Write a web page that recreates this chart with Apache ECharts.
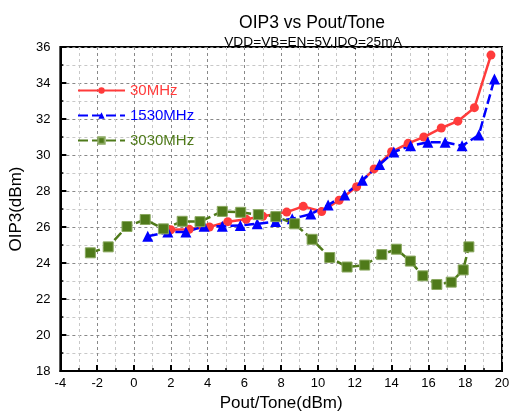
<!DOCTYPE html>
<html>
<head>
<meta charset="utf-8">
<script src="https://cdn.jsdelivr.net/npm/echarts@6/dist/echarts.min.js"></script>
<style>
  html, body { margin: 0; padding: 0; background: #fff; }
  #chart { width: 518px; height: 417px; }
</style>
</head>
<body>
<div id="chart"></div>
<script>
// values
const x30 = [2.0, 3.0, 4.1, 5.1, 6.1, 7.0, 8.3, 9.2, 10.2, 11.15, 12.1, 13.05, 14.0, 14.9, 15.75, 16.7, 17.6, 18.5, 19.4];
const y30 = [25.85, 25.88, 26.0, 26.3, 26.43, 26.6, 26.83, 27.15, 26.86, 27.49, 28.24, 29.23, 30.18, 30.65, 31.0, 31.5, 31.88, 32.63, 35.55];

const x1530 = [0.75, 1.84, 2.82, 3.81, 4.8, 5.78, 6.7, 7.7, 8.6, 9.61, 10.55, 11.45, 12.41, 13.35, 14.12, 15.03, 15.97, 16.91, 17.83, 18.74, 19.59];
const y1530 = [25.49, 25.72, 25.72, 26.05, 26.05, 26.09, 26.18, 26.31, 26.46, 26.72, 27.22, 27.78, 28.6, 29.47, 30.17, 30.51, 30.71, 30.71, 30.51, 31.11, 34.22];

const x3030 = [-2.37, -1.4, -0.38, 0.61, 1.6, 2.62, 3.59, 4.8, 5.8, 6.76, 7.71, 8.73, 9.68, 10.64, 11.58, 12.54, 13.47, 14.26, 15.02, 15.7, 16.46, 17.24, 17.89, 18.2];
const y3030 = [24.57, 24.9, 26.03, 26.42, 25.9, 26.32, 26.3, 26.87, 26.82, 26.69, 26.58, 26.18, 25.32, 24.31, 23.78, 23.89, 24.47, 24.77, 24.11, 23.29, 22.81, 22.94, 23.62, 24.9];

const xTicks = [-4, 20, 2];
const yTicks = [18, 36, 2];

const seriesNames = ['30MHz', '1530MHz', '3030MHz'];
const colors = ['#ff3b3b', '#0000ff', '#4f7a1a'];

function pairs(xs, ys) {
  return xs.map((x, i) => [x, ys[i]]);
}

const chart = echarts.init(document.getElementById('chart'));
const font = 'Liberation Sans, Arial, sans-serif';

const axisCommon = {
  type: 'value',
  axisLine: { show: true, onZero: false, lineStyle: { color: '#000', width: 2 } },
  axisTick: { show: true, inside: true, length: 6, lineStyle: { color: '#000', width: 2 } },
  minorTick: { show: true, splitNumber: 2, length: 3, lineStyle: { color: '#000', width: 1.5 } },
  splitLine: { show: true, lineStyle: { color: '#888', type: [3, 3], width: 1 } },
  minorSplitLine: { show: true, lineStyle: { color: '#c8c8c8', type: [3, 3], width: 1 } },
  axisLabel: { color: '#000', fontSize: 13, fontFamily: font }
};

chart.setOption({
  animation: false,
  title: [
    {
      text: 'OIP3 vs Pout/Tone',
      left: 307, top: 9, textAlign: 'center',
      textStyle: { fontSize: 17.5, fontWeight: 'normal', color: '#000', fontFamily: font }
    },
    {
      text: 'VDD=VB=EN=5V,IDQ=25mA',
      left: 308, top: 30, textAlign: 'center',
      textStyle: { fontSize: 13.7, fontWeight: 'normal', color: '#000', fontFamily: font }
    }
  ],
  grid: {
    left: 60, right: 16, top: 47, bottom: 41,
    show: true, borderColor: '#000', borderWidth: 2
  },
  legend: {
    orient: 'vertical',
    left: 77, top: 83, padding: 0,
    itemWidth: 47, itemHeight: 8, itemGap: 10,
    textStyle: { fontSize: 15, fontFamily: font },
    data: seriesNames.map((n, i) => ({ name: n, textStyle: { color: colors[i] } }))
  },
  xAxis: Object.assign({}, axisCommon, {
    min: xTicks[0], max: xTicks[1], interval: xTicks[2],
    name: 'Pout/Tone(dBm)', nameLocation: 'middle', nameGap: 21,
    nameTextStyle: { fontSize: 17, color: '#000', fontFamily: font },
    axisLabel: { color: '#000', fontSize: 13, fontFamily: font, margin: 6 }
  }),
  yAxis: Object.assign({}, axisCommon, {
    min: yTicks[0], max: yTicks[1], interval: yTicks[2],
    name: 'OIP3(dBm)', nameLocation: 'middle', nameGap: 32,
    nameTextStyle: { fontSize: 17, color: '#000', fontFamily: font },
    axisLabel: { color: '#000', fontSize: 13, fontFamily: font, margin: 10 }
  }),
  series: [
    {
      name: seriesNames[0], type: 'line',
      data: pairs(x30, y30),
      symbol: 'circle', symbolSize: 9,
      itemStyle: { color: colors[0] },
      lineStyle: { color: colors[0], width: 2.5 }
    },
    {
      name: seriesNames[1], type: 'line',
      data: pairs(x1530, y1530),
      symbol: 'triangle', symbolSize: 11,
      itemStyle: { color: colors[1] },
      lineStyle: { color: colors[1], width: 2.5, type: [10, 4] }
    },
    {
      name: seriesNames[2], type: 'line',
      data: pairs(x3030, y3030),
      symbol: 'rect', symbolSize: 10,
      itemStyle: { color: colors[2], borderColor: '#8aa860', borderWidth: 1 },
      lineStyle: { color: colors[2], width: 2.5, type: [10, 4] }
    }
  ]
});
</script>
</body>
</html>
